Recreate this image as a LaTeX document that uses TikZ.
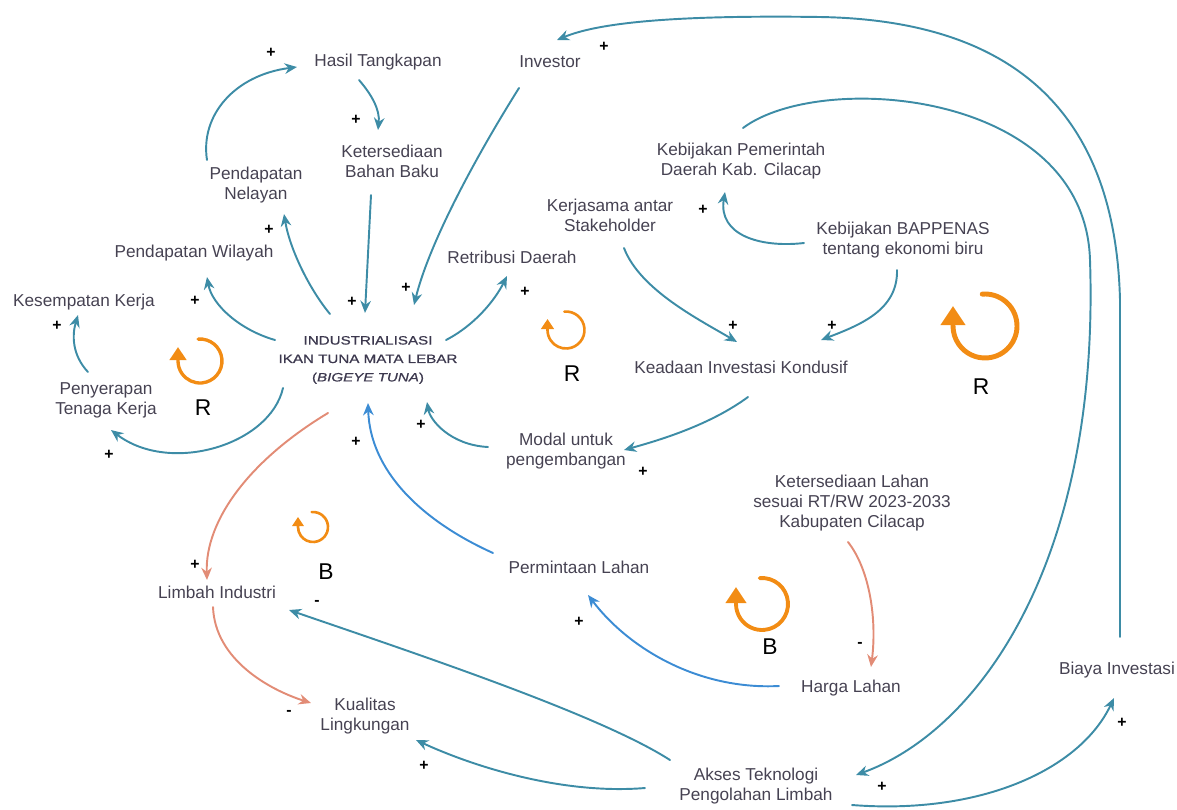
\documentclass[tikz,border=0pt]{standalone}
\usepackage{fontspec}
\setmainfont{Liberation Sans}
\newfontfamily\widefont[FakeStretch=1.25,FakeBold=0.6]{Liberation Sans}
\usetikzlibrary{arrows.meta}
\definecolor{txtc}{RGB}{70,66,82}
\definecolor{darkc}{RGB}{60,56,78}
\definecolor{tealc}{RGB}{61,140,166}
\definecolor{bluec}{RGB}{60,140,212}
\definecolor{redc}{RGB}{226,140,118}
\definecolor{orangec}{RGB}{242,140,20}
\begin{document}
\begin{tikzpicture}[x=0.02cm,y=-0.02cm,line cap=round,font=\fontsize{9.8}{11.5}\selectfont]
	\tikzset{var/.style={text=txtc,align=center,inner sep=1pt},
		lnk/.style={draw=tealc,line width=1.1pt,-{Stealth[length=7pt,width=6pt]}},
		lnkb/.style={lnk,draw=bluec},
		lnkr/.style={lnk,draw=redc},
		pol/.style={font=\fontsize{9}{9}\selectfont\bfseries,inner sep=0pt},
		lp/.style={draw=orangec,-{Triangle[length=#1,width'=0pt 1.25]}},
		lbl/.style={font=\fontsize{13}{13}\selectfont,inner sep=0pt}
	}
	\useasboundingbox (0,0) rectangle (1177,809);
	% variables
	\node[var] (hasil) at (378,62) {Hasil Tangkapan};
	\node[var] (investor) at (550,62) {Investor};
	\node[var] (bahan) at (392,161) {Ketersediaan\\Bahan Baku};
	\node[var] (nelayan) at (256,185) {Pendapatan\\Nelayan};
	\node[var] (wilayah) at (194,253) {Pendapatan Wilayah};
	\node[var] (retribusi) at (512,257) {Retribusi Daerah};
	\node[var] (kesempatan) at (84,302) {Kesempatan Kerja};
	\node[var] (penyerapan) at (106,400) {Penyerapan\\Tenaga Kerja};
	\node[var,text=darkc,font=\widefont\fontsize{6.9}{10.5}\selectfont] (industri) at (368,360) {INDUSTRIALISASI\\IKAN TUNA MATA LEBAR\\(\textit{BIGEYE TUNA})};
	\node[var] (pemerintah) at (741,161) {Kebijakan Pemerintah\\Daerah Kab. Cilacap};
	\node[var] (kerjasama) at (610,215) {Kerjasama antar\\Stakeholder};
	\node[var] (bappenas) at (903,240) {Kebijakan BAPPENAS\\tentang ekonomi biru};
	\node[var] (keadaan) at (741,367) {Keadaan Investasi Kondusif};
	\node[var] (modal) at (566,451) {Modal untuk\\pengembangan};
	\node[var] (lahan) at (852,503) {Ketersediaan Lahan\\sesuai RT/RW 2023-2033\\Kabupaten Cilacap};
	\node[var] (permintaan) at (579,567) {Permintaan Lahan};
	\node[var] (limbah) at (217,592) {Limbah Industri};
	\node[var] (harga) at (851,688) {Harga Lahan};
	\node[var] (biaya) at (1117,670) {Biaya Investasi};
	\node[var] (kualitas) at (365,716) {Kualitas\\Lingkungan};
	\node[var] (akses) at (756,786) {Akses Teknologi\\Pengolahan Limbah};
	% links
	\draw[lnk] ([shift={(-49,-25)}]nelayan.center) .. controls (200,115) and (235,75) .. ([shift={(-81,5)}]hasil.center);
	\draw[lnk] ([shift={(-19,18)}]hasil.center) .. controls (372,95) and (380,110) .. ([shift={(-14,-31)}]bahan.center);
	\draw[lnk] ([shift={(-21,34)}]bahan.center) -- ([shift={(-3,-47)}]industri.center);
	\draw[lnk] ([shift={(-31,26)}]investor.center) .. controls (480,150) and (430,240) .. ([shift={(46,-55)}]industri.center);
	\draw[lnk] ([shift={(-38,-46)}]industri.center) .. controls (310,290) and (290,250) .. ([shift={(28,29)}]nelayan.center);
	\draw[lnk] ([shift={(-93,-20)}]industri.center) .. controls (240,330) and (212,305) .. ([shift={(13,24)}]wilayah.center);
	\draw[lnk] ([shift={(78,-20)}]industri.center) .. controls (475,325) and (495,300) .. ([shift={(-5,19)}]retribusi.center);
	\draw[lnk] ([shift={(-18,-28)}]penyerapan.center) .. controls (72,355) and (72,335) .. ([shift={(-6,13)}]kesempatan.center);
	\draw[lnk] ([shift={(-85,28)}]industri.center) .. controls (270,445) and (170,475) .. ([shift={(5,30)}]penyerapan.center);
	\draw[lnk] ([shift={(-78,-4)}]modal.center) .. controls (450,445) and (430,420) .. ([shift={(59,42)}]industri.center);
	\draw[lnkb] ([shift={(-86,-14)}]permintaan.center) .. controls (420,520) and (370,470) .. ([shift={(0,43)}]industri.center);
	\draw[lnk] ([shift={(7,30)}]keadaan.center) .. controls (710,425) and (660,440) .. ([shift={(58,-1)}]modal.center);
	\draw[lnk] ([shift={(14,33)}]kerjasama.center) .. controls (640,290) and (700,320) .. ([shift={(-4,-25)}]keadaan.center);
	\draw[lnk] ([shift={(-6,30)}]bappenas.center) .. controls (898,310) and (860,325) .. ([shift={(80,-27)}]keadaan.center);
	\draw[lnk] ([shift={(-99,3)}]bappenas.center) .. controls (760,248) and (718,235) .. ([shift={(-16,31)}]pemerintah.center);
	\draw[lnk] ([shift={(2,-33)}]pemerintah.center) .. controls (820,70) and (1085,90) .. (1090,260)
		.. controls (1100,560) and (980,730) .. ([shift={(100,-11)}]akses.center);
	\draw[lnk] ([shift={(3,-33)}]biaya.center) -- (1120,300) .. controls (1115,100) and (1000,20) .. (820,17)
		.. controls (680,15) and (600,22) .. ([shift={(7,-22)}]investor.center);
	\draw[lnk] ([shift={(96,19)}]akses.center) .. controls (980,815) and (1080,770) .. ([shift={(-3,28)}]biaya.center);
	\draw[lnk] ([shift={(-86,-26)}]akses.center) .. controls (600,715) and (420,655) .. ([shift={(72,18)}]limbah.center);
	\draw[lnk] ([shift={(-111,2)}]akses.center) .. controls (560,795) and (470,765) .. ([shift={(51,24)}]kualitas.center);
	\draw[lnkr] ([shift={(-40,53)}]industri.center) .. controls (250,460) and (205,520) .. ([shift={(-10,-12)}]limbah.center);
	\draw[lnkr] ([shift={(-4,15)}]limbah.center) .. controls (215,660) and (270,690) .. ([shift={(-54,-13)}]kualitas.center);
	\draw[lnkr] ([shift={(-4,39)}]lahan.center) .. controls (870,570) and (877,620) .. ([shift={(20,-21)}]harga.center);
	\draw[lnkb] ([shift={(-72,-2)}]harga.center) .. controls (700,690) and (630,650) .. ([shift={(9,28)}]permintaan.center);
	% polarities
	\foreach \x/\y/\sg [count=\i] in {271/53/+,356/120/+,604/47/+,269/230/+,195/301/+,57/326/+,
		352/302/+,406/288/+,525/292/+,703/210/+,733/326/+,832/326/+,109/455/+,421/425/+,
		356/442/+,643/472/+,195/565/+,317/603/-,289/713/-,424/766/+,579/622/+,860/645/-,
		882/787/+,1122/723/+}
		\node[pol] (pm\i) at (\x,\y) {\sg};
	% loops
	\node[lbl] (r1) at (203,408) {R};
	\node[lbl] (r2) at (572,374) {R};
	\node[lbl] (r3) at (981,387) {R};
	\node[lbl] (b1) at (326,572) {B};
	\node[lbl] (b2) at (770,647) {B};
	\draw[lp=0.26cm,line width=1.9pt] (200,361) ++(95:0.44cm) arc[start angle=95,end angle=-180,radius=0.44cm] -- ++(90:0.28cm);
	\draw[lp=0.2cm,line width=1.5pt] (566,330) ++(95:0.37cm) arc[start angle=95,end angle=-180,radius=0.37cm] -- ++(90:0.22cm);
	\draw[lp=0.38cm,line width=2.8pt] (985,326) ++(95:0.64cm) arc[start angle=95,end angle=-180,radius=0.64cm] -- ++(90:0.4cm);
	\draw[lp=0.18cm,line width=1.5pt] (313,527) ++(95:0.3cm) arc[start angle=95,end angle=-180,radius=0.3cm] -- ++(90:0.2cm);
	\draw[lp=0.32cm,line width=2.2pt] (762,604) ++(95:0.52cm) arc[start angle=95,end angle=-180,radius=0.52cm] -- ++(90:0.34cm);
\end{tikzpicture}
\end{document}
